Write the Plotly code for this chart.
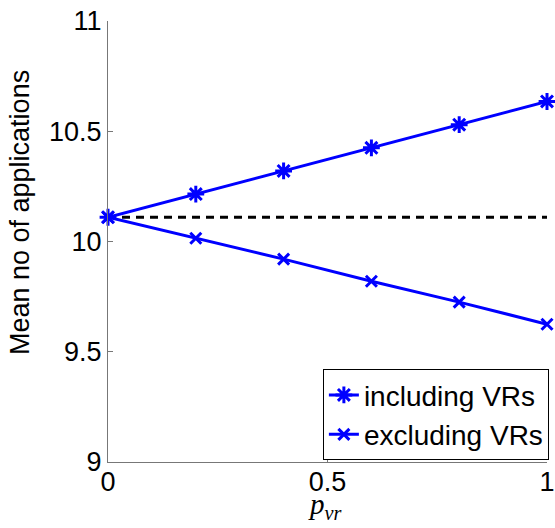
import plotly.graph_objects as go

p_vr = [0, 0.2, 0.4, 0.6, 0.8, 1.0]
including = [10.11, 10.215, 10.32, 10.425, 10.53, 10.635]
excluding = [10.11, 10.015, 9.92, 9.82, 9.725, 9.625]
baseline = 10.11
x_ticks = [0, 0.5, 1]
x_tick_labels = ["0", "0.5", "1"]
y_ticks = [9, 9.5, 10, 10.5, 11]
y_tick_labels = ["9", "9.5", "10", "10.5", "11"]

fig = go.Figure()
fig.add_trace(go.Scatter(x=[p_vr[0], p_vr[-1]], y=[baseline, baseline], mode="lines",
                         line=dict(color="black", width=3, dash="8px,6px"), showlegend=False,
                         cliponaxis=False))
fig.add_trace(go.Scatter(x=p_vr, y=including, mode="lines+markers", name="including VRs",
                         line=dict(color="#0000FF", width=3), cliponaxis=False,
                         marker=dict(symbol="asterisk-open", size=14, color="#0000FF",
                                     line=dict(color="#0000FF", width=3))))
fig.add_trace(go.Scatter(x=p_vr, y=excluding, mode="lines+markers", name="excluding VRs",
                         line=dict(color="#0000FF", width=3), cliponaxis=False,
                         marker=dict(symbol="x-thin-open", size=11, color="#0000FF",
                                     line=dict(color="#0000FF", width=3))))

font = "Liberation Sans, Arial, sans-serif"
fig.update_layout(
    width=555, height=528,
    margin=dict(l=108, r=7, t=21, b=66),
    paper_bgcolor="white", plot_bgcolor="white",
    font=dict(family=font, size=27, color="black"),
    xaxis=dict(range=[0, 1], tickvals=x_ticks, ticktext=x_tick_labels, automargin=False,
               showgrid=False, zeroline=False, showline=True, linecolor="#777777", linewidth=1,
               ticks="inside", ticklen=5, tickcolor="#777777", tickfont=dict(size=27),
               ticklabeloverflow="allow", ticklabelstandoff=-4),
    yaxis=dict(range=[9, 11], tickvals=y_ticks, ticktext=y_tick_labels, automargin=False,
               showgrid=False, zeroline=False, showline=True, linecolor="#777777", linewidth=1,
               ticks="inside", ticklen=5, tickcolor="#777777", tickfont=dict(size=27),
               ticklabeloverflow="allow"),
    legend=dict(x=1.002, y=0.004, xanchor="right", yanchor="bottom", bordercolor="black", borderwidth=1,
                bgcolor="white", font=dict(size=28), itemwidth=30, tracegroupgap=0),
    annotations=[
        dict(text="Mean no of applications", textangle=-90, xref="paper", yref="paper",
             x=-0.2, y=0.565, xanchor="center", yanchor="middle", showarrow=False,
             font=dict(size=27)),
        dict(text="<i>p</i><sub><i>vr</i></sub>", xref="paper", yref="paper",
             x=0.495, y=-0.1, xanchor="center", yanchor="middle", showarrow=False,
             font=dict(family="Liberation Serif, Times New Roman, serif", size=29)),
    ],
)
fig.write_html("out.html", config={"displayModeBar": False},
               post_script="document.body.style.margin='0';document.body.style.overflow='hidden';")
